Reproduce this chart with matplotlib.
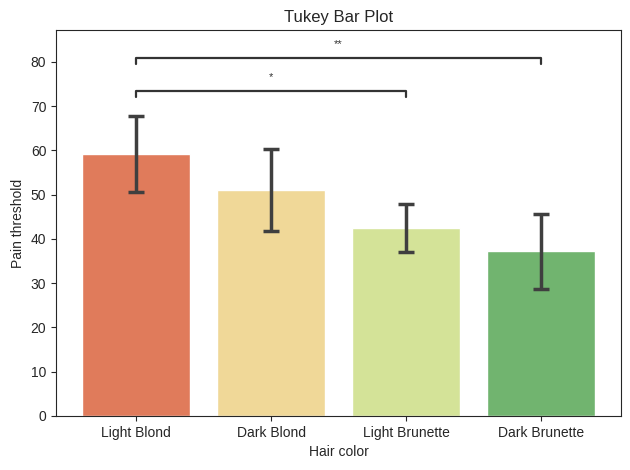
import matplotlib
matplotlib.use("Agg")
import matplotlib.pyplot as plt
import seaborn as sns
import numpy as np

sns.set_style("ticks")
plt.rcParams['font.family'] = ['Liberation Sans', 'DejaVu Sans']

categories = ["Light Blond", "Dark Blond", "Light Brunette", "Dark Brunette"]
means = [59.1, 51.0, 42.4, 37.2]
ci_low = [50.5, 41.8, 37.1, 28.8]
ci_high = [67.7, 60.4, 47.9, 45.6]
colors = ["#E07B5B", "#F0D898", "#D4E398", "#71B46F"]
comparisons = [(0, 2, "*", 73.5), (0, 3, "**", 81.0)]

fig, ax = plt.subplots(figsize=(6.3, 4.7), dpi=100)
x = np.arange(len(categories))
ax.bar(x, means, width=0.8, color=colors)
err = [np.array(means) - np.array(ci_low), np.array(ci_high) - np.array(means)]
ax.errorbar(x, means, yerr=err, fmt="none", ecolor="#3f3f3f", elinewidth=2.5,
            capsize=5.5, capthick=2.5)

for i, j, label, h in comparisons:
    ax.plot([x[i], x[i], x[j], x[j]], [h - 1.5, h, h, h - 1.5], color="#333333", lw=1.6)
    ax.text((x[i] + x[j]) / 2, h + 2, label, ha="center", va="bottom", fontsize=8, color="#333333")

ax.set_xticks(x)
ax.set_xticklabels(categories)
ax.set_ylim(0, 87.2)
ax.set_xlabel("Hair color")
ax.set_ylabel("Pain threshold")
ax.set_title("Tukey Bar Plot")
fig.subplots_adjust(left=0.089, right=0.986, top=0.936, bottom=0.115)
fig.savefig("out.png", dpi=100)
